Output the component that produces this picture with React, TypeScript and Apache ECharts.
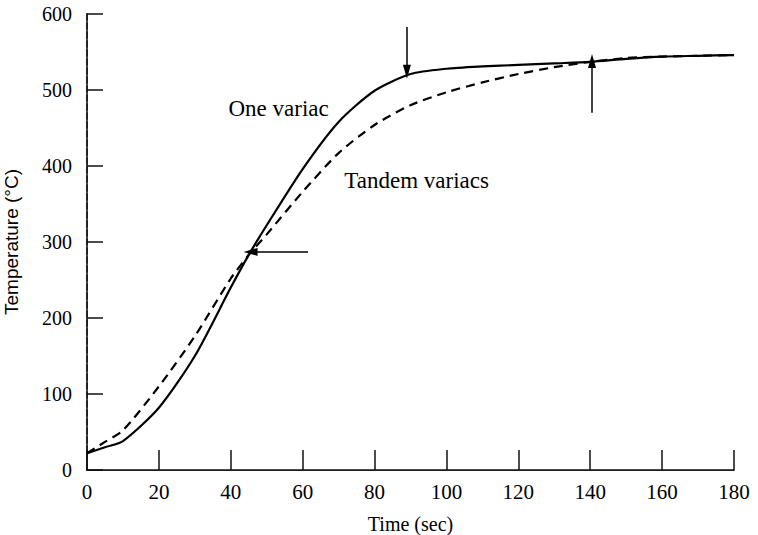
import React, { useEffect, useRef } from "react";
import * as echarts from "echarts";

const time = [0, 5, 10, 20, 30, 40, 45, 50, 60, 70, 80, 90, 100, 110, 120, 130, 140, 150, 160, 170, 180];
const oneVariac = [22, 30, 38, 82, 150, 240, 283, 322, 396, 458, 499, 521, 528, 531, 533, 535, 537, 541, 544, 545, 546];
const tandemVariacs = [22, 37, 52, 110, 176, 252, 283, 310, 366, 417, 454, 480, 497, 510, 521, 530, 537, 542, 544, 545, 546];
const xTicks = [0, 20, 40, 60, 80, 100, 120, 140, 160, 180];
const yTicks = [0, 100, 200, 300, 400, 500, 600];

const SERIF = "'Liberation Serif', 'DejaVu Serif', serif";
const SANS = "'Liberation Sans', Arial, sans-serif";

export default function App() {
  const ref = useRef<HTMLDivElement>(null);
  useEffect(() => {
    if (!ref.current) return;
    const chart = echarts.init(ref.current, undefined, { renderer: "svg" });
    const arrowLine = { color: "#000", width: 1.5, type: "solid" as const };
    chart.setOption({
      animation: false,
      backgroundColor: "#fff",
      grid: { left: 87, right: 24, top: 14, bottom: 65, outerBoundsMode: "none", containLabel: false },
      xAxis: [
        {
          type: "value",
          min: xTicks[0],
          max: xTicks[xTicks.length - 1],
          interval: 20,
          name: "Time (sec)",
          nameLocation: "middle",
          nameGap: 44,
          nameTextStyle: { fontFamily: SERIF, fontSize: 20, color: "#000" },
          axisLine: { show: true, lineStyle: { color: "#333", type: "dotted", width: 1.2 } },
          axisTick: { show: true, inside: true, length: 20, lineStyle: { color: "#111", width: 1.5 } },
          axisLabel: { fontFamily: SERIF, fontSize: 21, color: "#000", margin: 11 },
          splitLine: { show: false },
        },
        {
          type: "value",
          position: "top",
          min: xTicks[0],
          max: xTicks[xTicks.length - 1],
          axisLine: { show: true, lineStyle: { color: "#111", width: 1.5 } },
          axisTick: { show: false },
          axisLabel: { show: false },
          splitLine: { show: false },
        },
      ],
      yAxis: [
        {
          type: "value",
          min: yTicks[0],
          max: yTicks[yTicks.length - 1],
          interval: 100,
          name: "Temperature (°C)",
          nameLocation: "middle",
          nameGap: 66,
          nameTextStyle: { fontFamily: SANS, fontSize: 19, color: "#000" },
          axisLine: { show: true, lineStyle: { color: "#222", width: 1.5, type: "dashed" } },
          axisTick: { show: true, inside: true, length: 16, lineStyle: { color: "#111", width: 1.5 } },
          axisLabel: { fontFamily: SERIF, fontSize: 20, color: "#000", margin: 15 },
          splitLine: { show: false },
        },
        {
          type: "value",
          position: "right",
          min: yTicks[0],
          max: yTicks[yTicks.length - 1],
          axisLine: { show: true, lineStyle: { color: "#111", width: 1.5 } },
          axisTick: { show: false },
          axisLabel: { show: false },
          splitLine: { show: false },
        },
      ],
      series: [
        {
          name: "One variac",
          type: "line",
          smooth: 0.25,
          showSymbol: false,
          data: time.map((t, i) => [t, oneVariac[i]]),
          lineStyle: { color: "#000", width: 2.2, type: "solid" },
          markLine: {
            silent: true,
            symbol: ["none", "triangle"],
            symbolSize: [8, 14],
            lineStyle: arrowLine,
            label: { show: false },
            data: [
              [{ coord: [89, 583] }, { coord: [89, 524] }],
              [{ coord: [140.5, 470] }, { coord: [140.5, 538] }],
              [{ coord: [61.5, 287] }, { coord: [45.5, 287] }],
            ],
          },
          markPoint: {
            silent: true,
            symbol: "circle",
            symbolSize: 1,
            itemStyle: { color: "transparent" },
            label: { show: true, position: "inside", fontFamily: SERIF, fontSize: 23, color: "#000", formatter: "{b}" },
            data: [
              { name: "One variac", coord: [53.3, 476] },
              { name: "Tandem variacs", coord: [91.7, 381] },
            ],
          },
        },
        {
          name: "Tandem variacs",
          type: "line",
          smooth: 0.25,
          showSymbol: false,
          data: time.map((t, i) => [t, tandemVariacs[i]]),
          lineStyle: { color: "#000", width: 2.2, type: [9, 6] },
        },
      ],
    });
    return () => chart.dispose();
  }, []);
  return <div ref={ref} style={{ width: 758, height: 535, position: "absolute", left: 0, top: 0 }} />;
}
